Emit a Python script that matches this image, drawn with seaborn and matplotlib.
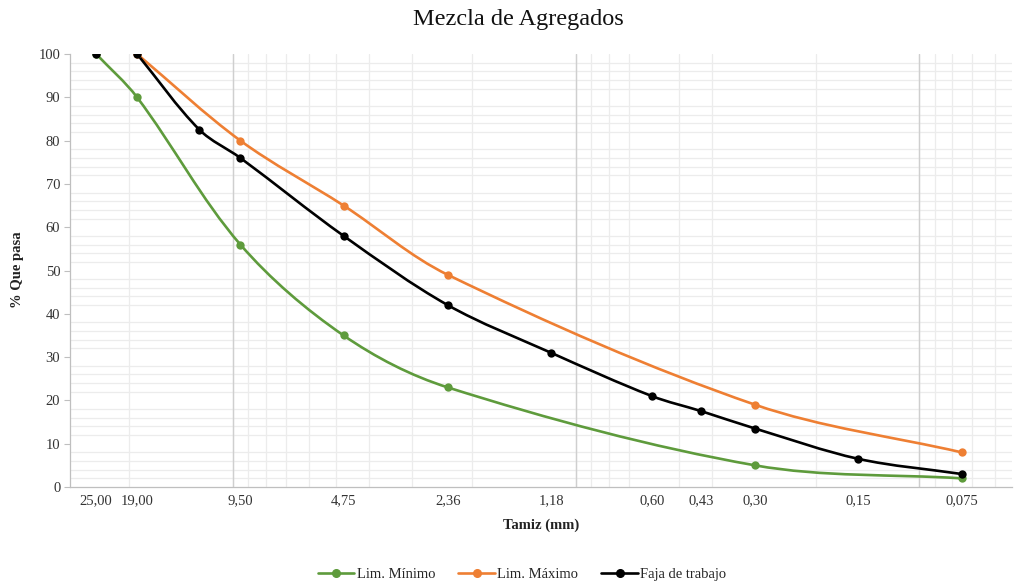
import numpy as np
import matplotlib
matplotlib.use("Agg")
import matplotlib.pyplot as plt
import seaborn as sns
from matplotlib.path import Path
from matplotlib.patches import PathPatch
from matplotlib.lines import Line2D
from matplotlib.ticker import FixedLocator, LogLocator, NullFormatter

# Sieve openings (mm) and percent passing for each curve
tamiz_minimo = [25.0, 19.0, 9.5, 4.75, 2.36, 0.30, 0.075]
lim_minimo = [100, 90, 56, 35, 23, 5, 2]

tamiz_maximo = [19.0, 9.5, 4.75, 2.36, 0.30, 0.075]
lim_maximo = [100, 80, 65, 49, 19, 8]

tamiz_faja = [25.0, 19.0, 12.5, 9.5, 4.75, 2.36, 1.18, 0.60, 0.43, 0.30, 0.15, 0.075]
faja_trabajo = [100, 100, 82.5, 76, 58, 42, 31, 21, 17.5, 13.5, 6.5, 3]

tick_tamiz = [25.0, 19.0, 9.5, 4.75, 2.36, 1.18, 0.60, 0.43, 0.30, 0.15, 0.075]
tick_labels = ["25,00", "19,00", "9,50", "4,75", "2,36", "1,18", "0,60", "0,43",
               "0,30", "0,15", "0,075"]

series_names = ["Lim. Mínimo", "Lim. Máximo", "Faja de trabajo"]
series_colors = ["#5E9B3C", "#EE7F33", "#000000"]

sns.set_theme(style="white")
plt.rcParams["font.family"] = ["Liberation Serif", "DejaVu Serif"]


def smooth_path(ax, x, y):
    """Smooth cubic Bezier through the points, built in screen space so the
    tangents follow the drawn curve; returned in data coordinates."""
    disp = ax.transData.transform(np.column_stack([x, y]))
    n = len(disp)
    verts = [disp[0]]
    codes = [Path.MOVETO]

    def tangent(i):
        a = disp[max(i - 1, 0)]
        b = disp[min(i + 1, n - 1)]
        d = b - a
        return d / np.hypot(*d)

    for i in range(n - 1):
        p1, p2 = disp[i], disp[i + 1]
        seg = np.hypot(*(p2 - p1))
        c1 = p1 + tangent(i) * seg / 3.0
        c2 = p2 - tangent(i + 1) * seg / 3.0
        verts += [c1, c2, p2]
        codes += [Path.CURVE4] * 3
    data = ax.transData.inverted().transform(np.array(verts))
    return Path(data, codes)


W, H = 1019, 587
fig = plt.figure(figsize=(W / 100, H / 100), dpi=100)
left, right, top, bottom = 70, 1012, 54, 487
ax = fig.add_axes([left / W, 1 - bottom / H, (right - left) / W, (bottom - top) / H])
ax.set_xscale("log")
ax.set_xlim(29.8, 0.0535)
ax.set_ylim(0, 100)

# Smoothed curves
curves = [
    (tamiz_minimo, lim_minimo),
    (tamiz_maximo, lim_maximo),
    (tamiz_faja[1:], faja_trabajo[1:]),
]
for (xs, ys), col in zip(curves, series_colors):
    ax.add_patch(PathPatch(smooth_path(ax, xs, ys), facecolor="none", edgecolor=col,
                           lw=1.9, capstyle="round", joinstyle="round", zorder=3))

# Markers
marker_sets = [
    (tamiz_minimo, lim_minimo),
    (tamiz_maximo, lim_maximo),
    (tamiz_faja, faja_trabajo),
]
for (xs, ys), col in zip(marker_sets, series_colors):
    sns.scatterplot(x=xs, y=ys, color=col, s=36, edgecolor=col, linewidth=0,
                    ax=ax, zorder=4, legend=False)
ax.set_xlim(29.8, 0.0535)
ax.set_ylim(0, 100)

# Gridlines
ax.xaxis.set_major_locator(FixedLocator(tick_tamiz))
ax.set_xticklabels(tick_labels)
ax.xaxis.set_minor_locator(LogLocator(base=10, subs=np.arange(1, 10)))
ax.xaxis.set_minor_formatter(NullFormatter())
ax.set_yticks(np.arange(0, 101, 10))
ax.yaxis.set_minor_locator(FixedLocator([v for v in range(2, 100, 2) if v % 10]))
ax.grid(False)
ax.grid(True, which="minor", color="#ececec", lw=0.9)
for dec in [10, 1, 0.1]:
    ax.axvline(dec, color="#cfcfcf", lw=1.0, zorder=1)

ax.tick_params(axis="x", which="major", length=0, pad=5, labelsize=10.5, colors="#333333")
ax.tick_params(axis="x", which="minor", length=0)
ax.tick_params(axis="y", which="major", length=4, width=0.8, color="#bfbfbf",
               direction="out", pad=3, labelsize=10.5, labelcolor="#333333", left=True)
ax.tick_params(axis="y", which="minor", length=0)

for s in ["top", "right"]:
    ax.spines[s].set_visible(False)
for s in ["left", "bottom"]:
    ax.spines[s].set_color("#bfbfbf")
    ax.spines[s].set_linewidth(0.9)

ax.set_xlabel("Tamiz (mm)", fontsize=10.5, fontweight="bold", color="#222222")
ax.xaxis.set_label_coords((541 - left) / (right - left), -(519 - bottom) / (bottom - top))
ax.set_ylabel("")
fig.text(18 / W, 1 - 270 / H, "% Que pasa", rotation=90, ha="center", va="center",
         fontsize=10.5, fontweight="bold", color="#222222")

fig.text(518 / W, 1 - 19 / H, "Mezcla de Agregados", ha="center", va="center",
         fontsize=17.5, color="#111111")

handles = [Line2D([0], [0], color=c, lw=1.9, marker="o", markersize=5.5) for c in series_colors]
fig.legend(handles, series_names, loc="center", bbox_to_anchor=(522 / W, 1 - 574 / H),
           ncol=3, frameon=False, fontsize=10.5, handlelength=2.5, handletextpad=0.15,
           columnspacing=1.6)

fig.savefig("out.png", dpi=100)
